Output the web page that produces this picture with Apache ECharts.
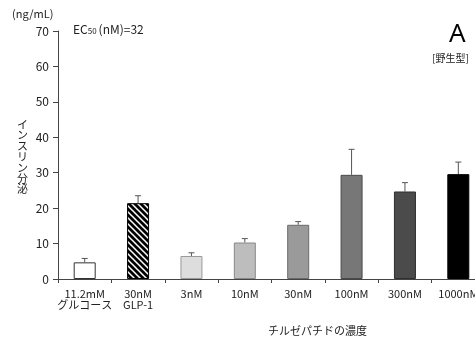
<!DOCTYPE html>
<html>
<head>
<meta charset="utf-8">
<script src="https://cdn.jsdelivr.net/npm/echarts@6/dist/echarts.min.js"></script>
<style>
  html, body { margin: 0; padding: 0; background: #fff; }
  #chart { width: 475px; height: 345px; }
</style>
</head>
<body>
<div id="chart"></div>
<script>
  // データ
  var categories = ['11.2mM\nグルコース', '30nM\nGLP-1', '3nM', '10nM', '30nM', '100nM', '300nM', '1000nM'];
  var insulinMean = [4.7, 21.4, 6.5, 10.3, 15.3, 29.4, 24.7, 29.6];
  var insulinErr = [1.1, 2.1, 0.9, 1.1, 0.9, 7.2, 2.5, 3.4];
  var yTicks = [0, 10, 20, 30, 40, 50, 60, 70];

  // 棒の色（スタイル）
  var barFill = ['#ffffff', 'hatch', '#dddddd', '#bdbdbd', '#9a9a9a', '#777777', '#4b4b4b', '#000000'];
  var barLine = ['#333333', '#000000', '#999999', '#888888', '#6a6a6a', '#4a4a4a', '#2e2e2e', '#000000'];

  // 斜線パターン
  function makeHatch() {
    var c = document.createElement('canvas');
    c.width = 6; c.height = 6;
    var ctx = c.getContext('2d');
    ctx.fillStyle = '#000';
    ctx.fillRect(0, 0, 6, 6);
    ctx.strokeStyle = '#fff';
    ctx.lineWidth = 1.5;
    ctx.beginPath();
    ctx.moveTo(-1, -1); ctx.lineTo(7, 7);
    ctx.moveTo(-1, 5); ctx.lineTo(1, 7);
    ctx.moveTo(5, -1); ctx.lineTo(7, 1);
    ctx.stroke();
    return c;
  }
  var hatch = makeHatch();

  var barData = insulinMean.map(function (v, i) {
    return {
      value: v,
      itemStyle: {
        color: barFill[i] === 'hatch' ? { image: hatch, repeat: 'repeat' } : barFill[i],
        borderColor: barLine[i],
        borderWidth: 1
      }
    };
  });
  var errData = insulinMean.map(function (v, i) { return [i, v, insulinErr[i]]; });

  var font = '"Noto Sans CJK JP", "Noto Sans", sans-serif';

  var chart = echarts.init(document.getElementById('chart'));
  var option = {
    animation: false,
    textStyle: { fontFamily: font },
    grid: { left: 58, top: 31, bottom: 66, width: 427, outerBoundsMode: 'none', containLabel: false },
    xAxis: {
      type: 'category',
      data: categories,
      axisLine: { lineStyle: { color: '#444', width: 1 } },
      axisTick: { show: true, length: 4, lineStyle: { color: '#444' } },
      axisLabel: { color: '#222', fontSize: 11, lineHeight: 11, margin: 9, interval: 0, fontFamily: font, hideOverlap: false }
    },
    yAxis: {
      type: 'value',
      min: yTicks[0],
      max: yTicks[yTicks.length - 1],
      interval: 10,
      splitLine: { show: false },
      axisLine: { show: true, lineStyle: { color: '#444', width: 1 } },
      axisTick: { show: true, length: 5, lineStyle: { color: '#444' } },
      axisLabel: { color: '#222', fontSize: 12, margin: 9, fontFamily: font }
    },
    series: [
      {
        type: 'bar',
        data: barData,
        barWidth: 22
      },
      {
        type: 'custom',
        data: errData,
        z: 1,
        renderItem: function (params, api) {
          var i = api.value(0);
          var lo = api.coord([i, api.value(1)]);
          var hi = api.coord([i, api.value(1) + api.value(2)]);
          var st = { stroke: '#555', lineWidth: 1 };
          return {
            type: 'group',
            children: [
              { type: 'line', shape: { x1: lo[0], y1: lo[1], x2: hi[0], y2: hi[1] }, style: st },
              { type: 'line', shape: { x1: hi[0] - 3, y1: hi[1], x2: hi[0] + 3, y2: hi[1] }, style: st }
            ]
          };
        }
      }
    ],
    graphic: [
      { type: 'text', left: 12, top: 8, style: { text: '(ng/mL)', fontSize: 11, fill: '#222', fontFamily: font } },
      {
        type: 'text', left: 73, top: 23,
        style: {
          text: '{a|EC}{b|50}{a|(nM)=32}',
          fill: '#222',
          fontFamily: font,
          rich: {
            a: { fontSize: 12, fontFamily: font, verticalAlign: 'middle' },
            b: { fontSize: 8, fontFamily: font, verticalAlign: 'middle', padding: [3, 2, 0, 0] }
          }
        }
      },
      { type: 'text', left: 449, top: 22, style: { text: 'A', fontSize: 26, fill: '#000', fontFamily: '"Noto Sans", sans-serif' } },
      { type: 'text', left: 432, top: 53, style: { text: '[野生型]', fontSize: 10, fill: '#222', fontFamily: font } },
      {
        type: 'text', left: 17, top: 119,
        style: { text: 'インスリン分泌'.split('').join('\n'), fontSize: 11, lineHeight: 10.8, fill: '#222', fontFamily: font, align: 'left' }
      },
      {
        type: 'text', left: 268, top: 325,
        style: { text: 'チルゼパチドの濃度', fontSize: 11, fill: '#222', fontFamily: font, align: 'center', verticalAlign: 'middle' }
      }
    ]
  };
  chart.setOption(option);
</script>
</body>
</html>
